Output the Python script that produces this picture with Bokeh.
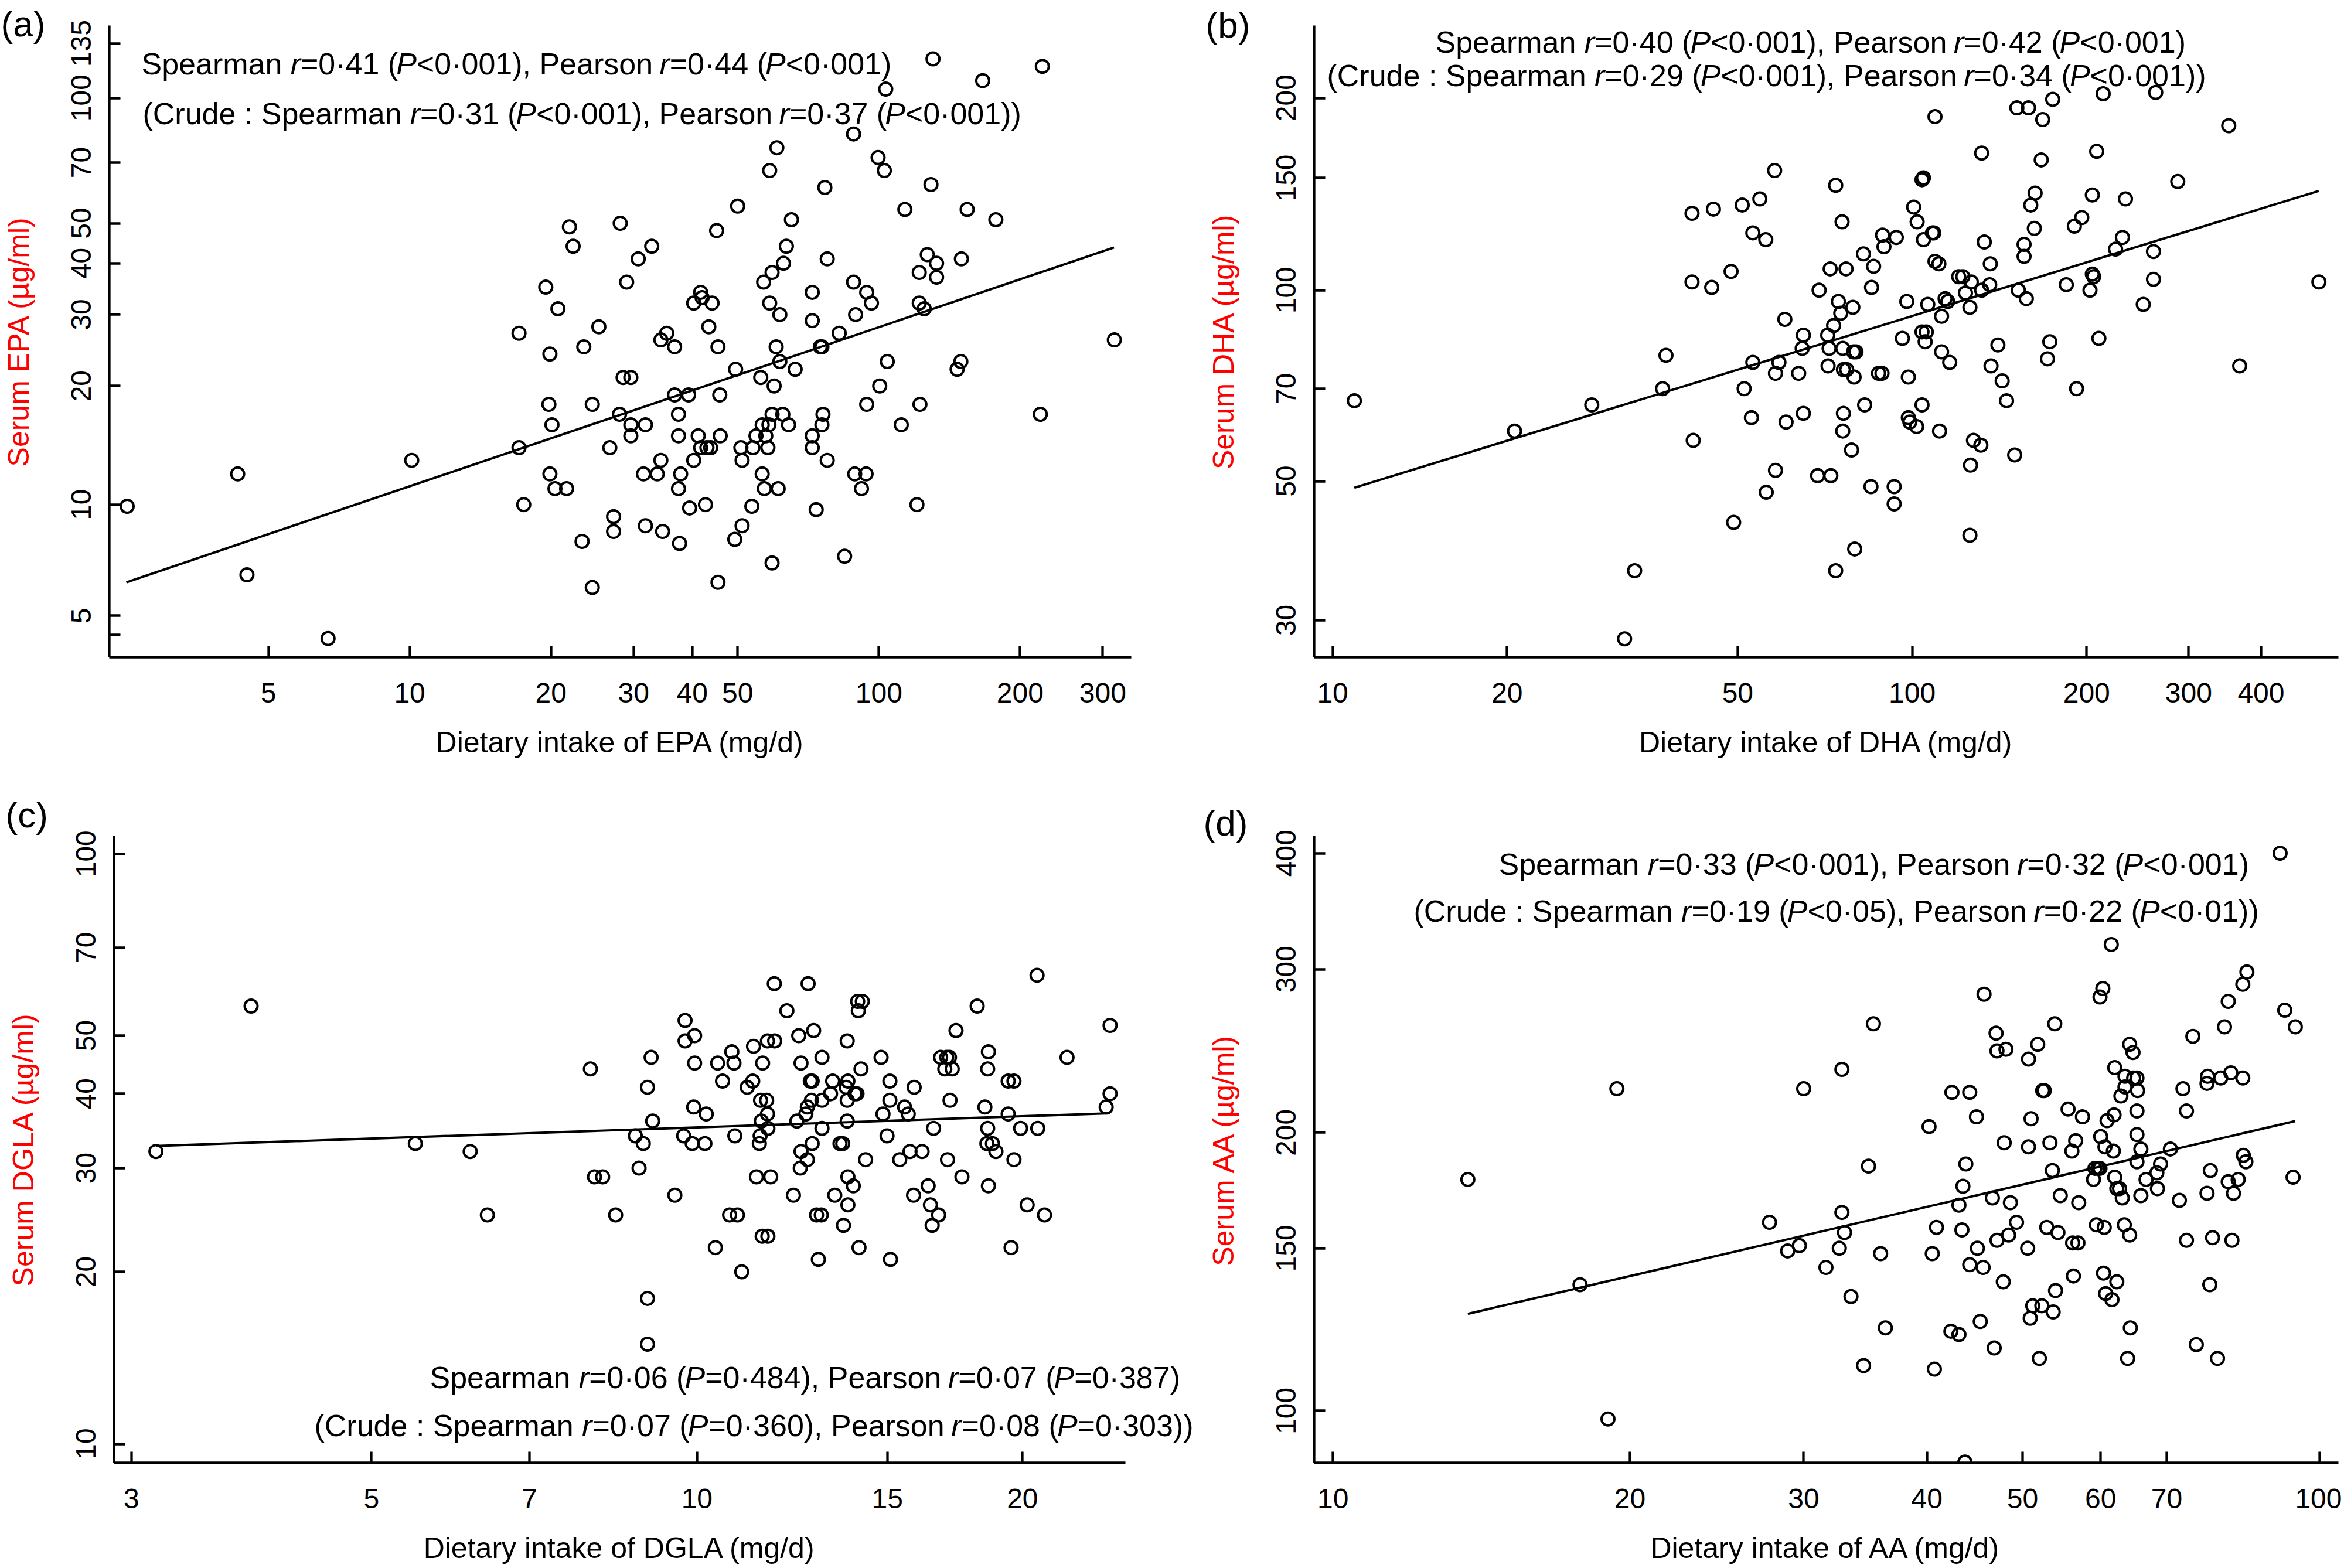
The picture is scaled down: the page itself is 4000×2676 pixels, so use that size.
import numpy as np
from bokeh.plotting import figure
from bokeh.models import (Range1d, FixedTicker, CustomJSTickFormatter, CustomJSTransform,
                          ColumnDataSource)
from bokeh.core.properties import value
from bokeh.transform import transform
from bokeh.layouts import row, column
from bokeh.embed import file_html
from bokeh.resources import INLINE

FONT = "Liberation Sans"

# ---------------- data: (a) EPA ----------------
epa_intake = [2.5, 4.3, 4.5, 6.7, 10.1, 17.1, 17.1, 17.5, 19.5, 19.9,
              19.8, 20.1, 19.9, 20.4, 21.6, 20.7, 21.9, 22.3, 23.5, 23.3,
              24.5, 24.5, 25.3, 26.7, 27.2, 27.2, 28.0, 28.1, 28.5, 29.6,
              29.0, 29.6, 29.6, 30.7, 31.5, 31.8, 31.8, 32.8, 33.7, 34.3,
              34.3, 34.6, 35.3, 36.7, 36.7, 37.4, 37.4, 37.8, 37.4, 37.6,
              39.3, 39.5, 40.3, 40.3, 41.2, 41.7, 42.0, 41.7, 42.7, 43.0,
              43.4, 43.8, 44.1, 45.1, 45.4, 45.8, 45.9, 45.4, 49.3, 49.5,
              50.0, 50.8, 51.1, 51.1, 53.6, 53.9, 54.7, 56.0, 56.4, 56.4,
              56.8, 57.0, 57.4, 58.0, 58.3, 58.5, 58.5, 59.2, 59.2, 59.8,
              59.2, 60.4, 60.6, 61.0, 61.5, 61.5, 62.4, 62.6, 63.5, 64.2,
              65.1, 66.3, 72.1, 72.1, 72.1, 72.1, 73.5, 75.0, 75.6, 75.6,
              76.0, 76.7, 77.6, 77.6, 82.3, 84.5, 88.3, 88.3, 88.8, 89.2,
              91.8, 93.9, 94.2, 94.2, 96.4, 99.6, 100.4, 102.7, 103.4, 104.2,
              111.6, 113.6, 120.5, 121.9, 121.9, 122.3, 124.9, 126.8, 129.1, 130.4,
              132.7, 132.7, 146.8, 149.5, 149.9, 154.2, 166.4, 177.5, 220.8, 223.0, 317.5]
epa_serum = [9.9, 12, 6.5, 4.3, 13, 27, 14, 10, 35, 24,
             18, 16, 12, 11, 11, 31, 49, 44, 25, 8.0,
             18, 6.0, 28, 14, 9.3, 8.5, 17, 50, 21, 21,
             36, 16, 15, 41, 12, 16, 8.8, 44, 12, 26,
             13, 8.5, 27, 25, 19, 17, 15, 12, 11, 7.9,
             19, 9.8, 13, 32, 15, 34, 33, 14, 10, 14,
             28, 14, 32, 48, 25, 19, 15, 6.2, 8.1, 22,
             55, 14, 13, 8.8, 9.9, 14, 15, 21, 16, 12,
             36, 11, 15, 14, 16, 67, 32, 17, 7.0, 20,
             38, 25, 76, 11, 30, 23, 17, 40, 44, 16,
             51, 22, 34, 29, 15, 14, 9.7, 25, 25, 16,
             17, 61, 41, 13, 27, 7.3, 82, 36, 12, 30,
             11, 12, 34, 18, 32, 72, 20, 67, 105, 23,
             16, 54, 10, 38, 32, 18, 31, 42, 62, 124,
             40, 37, 22, 23, 41, 54, 110, 51, 17, 119, 26]
epa_fit_x = [2.49, 317]
epa_fit_y = [6.2, 43.7]

# ---------------- data: (b) DHA ----------------
dha_intake = [10.9, 20.6, 28.0, 31.9, 33.2, 37.1, 37.6, 41.7, 41.7, 41.9,
              45.4, 45.1, 48.7, 49.2, 50.9, 51.3, 52.8, 53.1, 53.1, 54.6,
              55.9, 56.0, 57.9, 58.1, 58.1, 58.9, 60.3, 60.6, 63.7, 64.6,
              64.9, 64.9, 68.7, 69.1, 71.5, 71.6, 71.9, 72.2, 72.4, 73.2,
              73.8, 73.8, 74.6, 75.3, 75.7, 75.9, 76.1, 76.1, 75.9, 76.9,
              77.1, 78.6, 79.0, 79.2, 79.4, 79.6, 80.0, 82.4, 82.8, 84.9,
              85.1, 85.8, 87.5, 88.7, 88.9, 89.4, 93.1, 93.1, 93.9, 96.2,
              97.9, 98.5, 98.5, 99.1, 100.6, 102.0, 101.8, 104.0, 104.0, 104.6,
              104.0, 104.6, 105.3, 105.8, 106.4, 108.4, 109.0, 109.5, 109.5, 111.2,
              111.5, 112.4, 112.4, 114.0, 115.2, 116.1, 120.3, 122.3, 123.6, 125.8,
              126.1, 126.5, 127.6, 131.4, 131.8, 131.8, 133.2, 136.1, 136.4, 136.8,
              140.6, 143.0, 145.5, 150.3, 151.6, 152.5, 156.0, 156.0, 157.4, 158.8,
              160.2, 162.5, 163.0, 167.0, 168.0, 171.2, 172.8, 174.8, 184.5, 190.5,
              192.2, 196.2, 202.7, 204.6, 204.6, 205.7, 208.2, 210.0, 213.6, 224.4,
              230.6, 233.4, 250.5, 260.9, 260.9, 263.2, 287.3, 351.8, 367.4, 503.4, 125.8]
dha_serum = [67, 60, 66, 28, 36, 70, 79, 132, 103, 58,
             134, 101, 107, 43, 136, 70, 63, 123, 77, 139,
             120, 48, 154, 74, 52, 77, 90, 62, 74, 81,
             85, 64, 51, 100, 85, 76, 81, 108, 51, 88,
             146, 36, 96, 92, 128, 81, 75, 64, 60, 108,
             75, 56, 94, 80, 73, 39, 80, 114, 66, 49,
             101, 109, 74, 74, 122, 117, 49, 46, 121, 84,
             96, 73, 63, 62, 135, 128, 61, 149, 66, 150,
             86, 120, 83, 86, 95, 123, 123, 187, 111, 110,
             60, 91, 80, 97, 96, 77, 105, 105, 99, 94,
             53, 103, 58, 57, 164, 100, 119, 102, 110, 76,
             82, 72, 67, 55, 193, 100, 118, 113, 97, 193,
             136, 125, 142, 160, 185, 78, 83, 199, 102, 126,
             70, 130, 100, 141, 106, 105, 165, 84, 203, 116,
             121, 139, 95, 115, 104, 204, 148, 181, 76, 103, 41]
dha_fit_x = [10.9, 503]
dha_fit_y = [48.8, 143.1]

# ---------------- data: (c) DGLA ----------------
dgla_intake = [3.16, 3.87, 5.49, 6.17, 6.40, 7.97, 8.04, 8.18, 8.41, 8.77,
               8.84, 8.92, 9.0, 9.07, 9.10, 9.0, 9.0, 9.54, 9.72, 9.75,
               9.75, 9.90, 9.93, 9.95, 9.95, 10.17, 10.2, 10.4, 10.45, 10.56,
               10.72, 10.77, 10.82, 10.84, 10.9, 11.0, 11.13, 11.26, 11.28, 11.35,
               11.42, 11.44, 11.45, 11.47, 11.49, 11.5, 11.6, 11.62, 11.63, 11.63,
               11.62, 11.7, 11.79, 11.8, 12.11, 12.28, 12.37, 12.42, 12.48, 12.48,
               12.46, 12.61, 12.65, 12.65, 12.67, 12.73, 12.78, 12.76, 12.78, 12.82,
               12.9, 12.95, 13.03, 13.05, 13.05, 13.05, 13.29, 13.35, 13.41, 13.56,
               13.64, 13.66, 13.74, 13.77, 13.77, 13.77, 13.79, 13.79, 13.79, 13.95,
               14.0, 14.06, 14.08, 14.1, 14.12, 14.18, 14.22, 14.32, 14.8, 14.86,
               14.99, 15.08, 15.08, 15.1, 15.4, 15.56, 15.68, 15.74, 15.86, 15.88,
               16.15, 16.36, 16.44, 16.5, 16.55, 16.73, 16.8, 16.95, 17.02, 17.05,
               17.12, 17.14, 17.22, 17.36, 17.58, 18.16, 18.46, 18.54, 18.57, 18.57,
               18.6, 18.6, 18.76, 18.9, 19.4, 19.4, 19.52, 19.64, 19.64, 19.92,
               20.2, 20.63, 20.66, 20.96, 21.99, 23.9, 24.1, 24.1]
dgla_serum = [32, 56, 33, 32, 25, 44, 29, 29, 25, 34,
              30, 33, 41, 46, 36, 18, 15, 27, 34, 53,
              49, 33, 38, 45, 50, 33, 37, 22, 45, 42,
              25, 47, 45, 34, 25, 20, 41, 42, 48, 29,
              33, 34, 39, 36, 23, 45, 39, 37, 35, 23,
              49, 29, 61, 49, 55, 27, 36, 50, 45, 32,
              30, 37, 38, 31, 61, 42, 42, 39, 33, 51,
              25, 21, 25, 39, 46, 35, 40, 42, 27, 33,
              33, 24, 41, 49, 39, 36, 42, 29, 26, 28,
              40, 40, 57, 55, 22, 44, 57, 31, 46, 37,
              34, 39, 42, 21, 31, 38, 37, 32, 27, 41,
              32, 28, 26, 24, 35, 25, 46, 44, 46, 31,
              46, 39, 44, 51, 29, 56, 38, 33, 35, 44,
              47, 28, 33, 32, 42, 37, 22, 42, 31, 35,
              26, 63, 35, 25, 46, 38, 40, 52]
dgla_fit_x = [3.16, 24.1]
dgla_fit_y = [32.7, 37.1]

# ---------------- data: (d) AA ----------------
aa_intake = [13.7, 17.8, 19.0, 19.4, 27.7, 28.9, 29.7, 30.0, 31.6, 32.6,
             32.8, 32.8, 33.0, 33.5, 34.5, 34.9, 35.3, 35.9, 36.3, 40.2,
             40.5, 40.7, 40.9, 42.3, 42.4, 43.1, 43.1, 43.4, 43.5, 43.7,
             43.8, 44.2, 44.2, 44.9, 45.0, 45.3, 45.7, 45.6, 46.6, 46.8,
             47.0, 47.1, 47.1, 47.8, 47.9, 48.1, 48.4, 48.6, 49.3, 50.6,
             50.7, 50.7, 50.9, 51.0, 51.2, 51.8, 52.0, 52.3, 52.4, 52.6,
             52.9, 53.3, 53.6, 53.7, 53.9, 54.0, 54.3, 54.6, 55.6, 56.1,
             56.2, 56.3, 56.6, 56.9, 57.0, 57.5, 59.0, 59.2, 59.4, 59.6,
             60.0, 59.9, 59.9, 60.3, 60.4, 60.5, 60.6, 60.7, 60.9, 61.5,
             61.6, 61.8, 61.9, 62.0, 62.0, 62.3, 62.3, 62.7, 62.9, 63.1,
             63.4, 63.5, 63.5, 64.2, 64.2, 64.3, 63.9, 64.7, 64.8, 65.3,
             65.3, 65.3, 65.3, 65.4, 65.9, 65.9, 66.7, 68.4, 68.5, 69.0,
             70.6, 72.1, 72.7, 73.3, 73.3, 74.4, 75.0, 76.9, 76.9, 77.0,
             77.4, 77.5, 77.9, 78.8, 79.4, 80.1, 80.8, 80.8, 81.3, 81.8,
             81.5, 82.7, 83.6, 83.6, 83.7, 84.2, 84.4, 91.2, 92.2, 94.0, 94.5]
aa_serum = [178, 137, 98, 223, 160, 149, 151, 223, 143, 150,
            234, 164, 156, 133, 112, 184, 262, 148, 123, 203,
            148, 111, 158, 122, 221, 167, 121, 157, 175, 88,
            185, 144, 221, 208, 150, 125, 282, 143, 170, 117,
            256, 245, 153, 138, 195, 246, 155, 168, 160, 150,
            240, 193, 126, 207, 130, 249, 114, 130, 222, 222,
            158, 195, 182, 128, 262, 135, 156, 171, 212, 191,
            152, 140, 196, 152, 168, 208, 178, 183, 159, 183,
            198, 183, 280, 286, 141, 158, 193, 134, 206, 319,
            132, 191, 209, 235, 179, 138, 174, 174, 219, 170,
            159, 230, 224, 249, 155, 123, 114, 244, 229, 229,
            211, 199, 186, 222, 192, 171, 178, 181, 174, 185,
            192, 169, 223, 211, 153, 254, 118, 172, 226, 230,
            137, 182, 154, 114, 229, 260, 277, 177, 232, 172,
            153, 178, 229, 289, 189, 186, 298, 400, 271, 179, 260]
aa_fit_x = [13.7, 94.5]
aa_fit_y = [127.4, 205.8]

# ---------------- ticks and texts ----------------
epa_xticks = [5, 10, 20, 30, 40, 50, 100, 200, 300]
epa_yticks = [4.4, 5, 10, 20, 30, 40, 50, 70, 100, 135]
epa_ylabels = [5, 10, 20, 30, 40, 50, 70, 100, 135]
dha_xticks = [10, 20, 50, 100, 200, 300, 400]
dha_yticks = [30, 50, 70, 100, 150, 200]
dgla_xticks = [3, 5, 7, 10, 15, 20]
dgla_yticks = [10, 20, 30, 40, 50, 70, 100]
aa_xticks = [10, 20, 30, 40, 50, 60, 70, 100]
aa_yticks = [100, 150, 200, 300, 400]

epa_stats = ["Spearman *r*=0·41 (*P*<0·001), Pearson *r*=0·44 (*P*<0·001)",
             "(Crude : Spearman *r*=0·31 (*P*<0·001), Pearson *r*=0·37 (*P*<0·001))"]
dha_stats = ["Spearman *r*=0·40 (*P*<0·001), Pearson *r*=0·42 (*P*<0·001)",
             "(Crude : Spearman *r*=0·29 (*P*<0·001), Pearson *r*=0·34 (*P*<0·001))"]
dgla_stats = ["Spearman *r*=0·06 (*P*=0·484), Pearson *r*=0·07 (*P*=0·387)",
              "(Crude : Spearman *r*=0·07 (*P*=0·360), Pearson *r*=0·08 (*P*=0·303))"]
aa_stats = ["Spearman *r*=0·33 (*P*<0·001), Pearson *r*=0·32 (*P*<0·001)",
            "(Crude : Spearman *r*=0·19 (*P*<0·05), Pearson *r*=0·22 (*P*<0·01))"]

# Arial / Liberation Sans advance widths (1/1000 em)
WIDTHS = {' ': 278, '(': 333, ')': 333, ',': 278, ':': 278, '=': 584, '<': 584, '·': 278,
          'S': 667, 'p': 556, 'e': 556, 'a': 556, 'r': 333, 'm': 833, 'n': 556, 'P': 667,
          'o': 556, 's': 500, 'C': 722, 'u': 556, 'd': 556}
for _d in "0123456789":
    WIDTHS[_d] = 556


def text_width(s, size):
    return sum(WIDTHS.get(c, 556) for c in s) * size / 1000.0


log1p = CustomJSTransform(v_func="""
    const out = new Float64Array(xs.length);
    for (let i = 0; i < xs.length; i++) out[i] = Math.log10(xs[i] + 1);
    return out;
""")

LW, RW = 2052, 1944
TH, BH = 1336, 1336
BASE_SHIFT = 0.27   # em, baseline correction of the text glyph


def make_panel(xs, ys, fx, fy, xt, yt, ylab_vals, xlabel, ylabel, tag, stats,
               origin, size, frame, xr, yr, tag_pos, stat_pos):
    ox, oy = origin
    width, height = size
    fl, fr, ft, fb = frame            # frame edges in page pixels
    p = figure(width=width, height=height, x_axis_type="log",
               x_range=Range1d(*xr), y_range=Range1d(*yr),
               output_backend="svg", toolbar_location=None,
               min_border_left=fl - ox, min_border_right=ox + width - fr,
               min_border_top=ft - oy, min_border_bottom=oy + height - fb)
    p.grid.visible = False
    p.outline_line_color = None
    p.background_fill_color = "white"
    p.border_fill_color = "white"

    src = ColumnDataSource(dict(x=xs, y=ys))
    p.scatter(x="x", y=transform("y", log1p), source=src, marker="circle", size=22,
              fill_color=None, line_color="black", line_width=4)
    fsrc = ColumnDataSource(dict(x=fx, y=fy))
    p.line(x="x", y=transform("y", log1p), source=fsrc, line_color="black", line_width=4)

    p.xaxis.ticker = FixedTicker(ticks=xt)
    p.xaxis.formatter = CustomJSTickFormatter(code="return String(Math.round(tick));")
    p.yaxis.ticker = FixedTicker(ticks=[float(np.log10(t + 1)) for t in yt])
    p.yaxis.formatter = CustomJSTickFormatter(args=dict(labels=ylab_vals), code="""
        const v = Math.pow(10, tick) - 1;
        const r = Math.round(v);
        return (Math.abs(v - r) < 1e-6 && labels.includes(r)) ? String(r) : "";
    """)
    for ax in (p.xaxis[0], p.yaxis[0]):
        ax.axis_line_width = 4.3
        ax.axis_line_color = "black"
        ax.major_tick_line_width = 4.3
        ax.major_tick_line_color = "black"
        ax.major_tick_out = 0
        ax.major_tick_in = 19
        ax.minor_tick_line_color = None
        ax.major_label_text_font = FONT
        ax.major_label_text_font_size = "48px"
        ax.major_label_text_color = "black"
        ax.axis_label_text_font = FONT
        ax.axis_label_text_font_size = "50px"
        ax.axis_label_text_font_style = "normal"
    p.xaxis.major_label_standoff = 44
    p.xaxis.axis_label = xlabel
    p.xaxis.axis_label_text_color = "black"
    p.xaxis.axis_label_standoff = 37
    p.yaxis.major_label_standoff = 31
    p.yaxis.axis_label = ylabel
    p.yaxis.axis_label_text_color = "#ff0000"
    p.yaxis.axis_label_standoff = 60
    p.yaxis.major_label_orientation = "vertical"

    # page pixel -> data coordinates (for text placement only)
    lx0, lx1 = np.log10(xr[0]), np.log10(xr[1])

    def to_data(X, Y):
        xd = 10 ** (lx0 + (X - fl) / (fr - fl) * (lx1 - lx0))
        yd = yr[0] + (fb - Y) / (fb - ft) * (yr[1] - yr[0])
        return float(xd), float(yd)

    tx, ty, tt, ts, tz = [], [], [], [], []
    xd, yd = to_data(tag_pos[0], tag_pos[1] - BASE_SHIFT * 62)
    tx.append(xd); ty.append(yd); tt.append(tag); ts.append("normal"); tz.append("62px")
    for s, (sx, sy) in zip(stats, stat_pos):
        cx = sx
        italic = False
        for part in s.split("*"):
            if part:
                xd, yd = to_data(cx, sy - BASE_SHIFT * 52)
                tx.append(xd); ty.append(yd); tt.append(part)
                ts.append("italic" if italic else "normal"); tz.append("52px")
                cx += text_width(part, 52)
            italic = not italic
    tsrc = ColumnDataSource(dict(x=tx, y=ty, text=tt, style=ts, size=tz))
    p.text(x="x", y="y", text="text", source=tsrc, text_font=value(FONT),
           text_font_size="size", text_font_style="style", text_color="black",
           text_align="left", text_baseline="alphabetic", level="overlay")
    return p


pa = make_panel(epa_intake, epa_serum, epa_fit_x, epa_fit_y, epa_xticks, epa_yticks, epa_ylabels,
                "Dietary intake of EPA (mg/d)", "Serum EPA (µg/ml)", "(a)", epa_stats,
                (0, 0), (LW, TH), (185, 1930, 43, 1125), (2.29, 345), (0.6801, 2.1760),
                (0, 57), [(240, 123), (242, 208)])
pb = make_panel(dha_intake, dha_serum, dha_fit_x, dha_fit_y, dha_xticks, dha_yticks, dha_yticks,
                "Dietary intake of DHA (mg/d)", "Serum DHA (µg/ml)", "(b)", dha_stats,
                (LW, 0), (RW, TH), (2242, 3990, 41, 1121), (9.29, 544), (1.4339, 2.4158),
                (2057, 57), [(2449, 84), (2264, 141)])
pc = make_panel(dgla_intake, dgla_serum, dgla_fit_x, dgla_fit_y, dgla_xticks, dgla_yticks, dgla_yticks,
                "Dietary intake of DGLA (mg/d)", "Serum DGLA (µg/ml)", "(c)", dgla_stats,
                (0, TH), (LW, BH), (194, 1920, 1426, 2498), (2.89, 24.9), (1.0104, 2.0337),
                (9, 1407), [(733, 2366), (536, 2448)])
pd_ = make_panel(aa_intake, aa_serum, aa_fit_x, aa_fit_y, aa_xticks, aa_yticks, aa_yticks,
                 "Dietary intake of AA (mg/d)", "Serum AA (µg/ml)", "(d)", aa_stats,
                 (LW, TH), (RW, BH), (2242, 3990, 1417, 2497), (9.57, 104.5), (1.9486, 2.6218),
                 (2053, 1412), [(2557, 1480), (2412, 1561)])

layout = column(row(pa, pb), row(pc, pd_))
open("out.html", "w").write(file_html(layout, INLINE))
